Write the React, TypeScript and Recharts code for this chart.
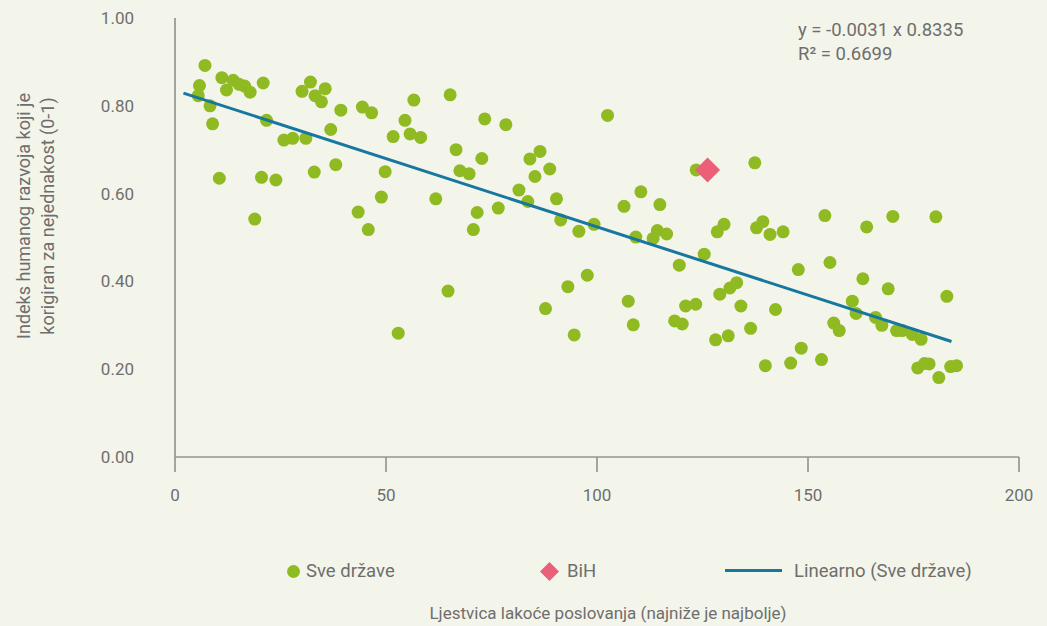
import React from 'react';
import { ScatterChart, Scatter, XAxis, YAxis } from 'recharts';

// Ljestvica lakoće poslovanja (rank) per country
const RANK = [
  7.1, 5.8, 5.5, 8.3, 8.9, 11.1, 12.2, 13.8, 15.2, 16.5, 17.8, 20.9, 21.7, 10.5, 18.9, 20.5,
  23.9, 25.8, 27.9, 31.0, 30.1, 32.1, 33.2, 34.7, 35.6, 36.9, 39.3, 33.0, 38.1, 43.4, 45.8, 48.9,
  49.8, 44.4, 46.6, 56.6, 65.2, 54.5, 51.7, 55.7, 58.2, 66.6, 72.7, 73.4, 78.4, 67.5, 69.7, 61.8,
  71.6, 70.7, 76.6, 81.5, 83.6, 84.1, 86.5, 85.3, 88.8, 90.4, 91.4, 95.7, 99.3, 64.7, 52.9, 87.8,
  93.1, 97.7, 94.6, 102.5, 123.5, 137.4, 110.4, 106.4, 114.9, 109.2, 114.3, 113.3, 116.5, 130.1,
  128.5, 137.8, 139.3, 141.0, 144.1, 125.4, 119.5, 107.4, 108.6, 121.0, 123.4, 118.4, 120.2, 129.1,
  131.5, 133.1, 134.1, 142.3, 136.4, 128.1, 131.1, 139.9, 145.9, 147.7, 148.4, 154.0, 163.9, 170.1,
  180.3, 155.2, 163.0, 169.0, 182.9, 160.5, 161.4, 156.1, 157.4, 166.0, 167.5, 171.0, 172.3, 174.7,
  176.8, 153.2, 176.0, 177.6, 178.7, 181.0, 183.8, 185.2,
];

// Indeks humanog razvoja korigiran za nejednakost
const IHDI = [
  0.892, 0.846, 0.823, 0.8, 0.759, 0.864, 0.836, 0.858, 0.849, 0.845, 0.831, 0.852, 0.767, 0.635, 0.542, 0.637,
  0.631, 0.722, 0.726, 0.726, 0.833, 0.854, 0.823, 0.809, 0.839, 0.746, 0.79, 0.649, 0.666, 0.558, 0.518, 0.592,
  0.65, 0.797, 0.784, 0.813, 0.825, 0.767, 0.73, 0.736, 0.728, 0.7, 0.68, 0.77, 0.757, 0.652, 0.645, 0.588,
  0.557, 0.518, 0.567, 0.608, 0.582, 0.679, 0.696, 0.639, 0.656, 0.588, 0.54, 0.514, 0.53, 0.378, 0.282, 0.338,
  0.388, 0.414, 0.278, 0.778, 0.654, 0.67, 0.604, 0.571, 0.575, 0.501, 0.516, 0.498, 0.508, 0.53,
  0.513, 0.522, 0.536, 0.507, 0.513, 0.462, 0.437, 0.355, 0.301, 0.344, 0.348, 0.31, 0.303, 0.371,
  0.385, 0.397, 0.344, 0.336, 0.293, 0.267, 0.276, 0.208, 0.214, 0.427, 0.248, 0.55, 0.524, 0.548,
  0.547, 0.443, 0.406, 0.383, 0.366, 0.355, 0.327, 0.305, 0.288, 0.318, 0.3, 0.288, 0.288, 0.279,
  0.268, 0.222, 0.203, 0.213, 0.212, 0.181, 0.206, 0.208,
];

const BIH_RANK = [126.2];
const BIH_IHDI = [0.654];

// trend line end points (y = -0.0031x + 0.8335)
const TREND_RANK = [2, 184];
const TREND_IHDI = [0.829, 0.263];

const X_TICKS = [0, 50, 100, 150, 200];
const Y_TICKS = [0, 0.2, 0.4, 0.6, 0.8, 1];

const svData = RANK.map((x, i) => ({ x, y: IHDI[i] }));
const bihData = BIH_RANK.map((x, i) => ({ x, y: BIH_IHDI[i] }));
const trendData = TREND_RANK.map((x, i) => ({ x, y: TREND_IHDI[i] }));

const GREEN = '#8fba22';
const PINK = '#ec5f78';
const BLUE = '#17779f';
const TEXT = '#6e6e6e';
const BG = '#f4f5ea';
const FONT = 'Roboto, sans-serif';

const Dot = (props: any) => <circle cx={props.cx} cy={props.cy} r={6.5} fill={GREEN} />;

const Diamond = (props: any) => {
  const { cx, cy } = props;
  const r = 12.5;
  return <polygon points={`${cx},${cy - r} ${cx + r},${cy} ${cx},${cy + r} ${cx - r},${cy}`} fill={PINK} />;
};

const YTitle = () => (
  <g fill={TEXT} fontSize={18} fontFamily={FONT}>
    <text x={23} y={216} textAnchor="middle" dominantBaseline="central" transform="rotate(-90, 23, 216)">
      Indeks humanog razvoja koji je
    </text>
    <text x={47} y={216} textAnchor="middle" dominantBaseline="central" transform="rotate(-90, 47, 216)">
      korigiran za nejednakost (0-1)
    </text>
  </g>
);

const XTitle = () => (
  <text x={608} y={613} textAnchor="middle" dominantBaseline="central" fill={TEXT} fontSize={17} fontFamily={FONT}>
    Ljestvica lakoće poslovanja (najniže je najbolje)
  </text>
);

const legendItem: React.CSSProperties = {
  position: 'absolute',
  top: 560,
  display: 'flex',
  alignItems: 'center',
  height: 22,
  fontSize: 18.5,
  color: TEXT,
  fontFamily: FONT,
  whiteSpace: 'nowrap',
};

export default function App() {
  return (
    <div style={{ position: 'absolute', left: 0, top: 0, width: 1047, height: 626, background: BG, overflow: 'hidden' }}>
      <ScatterChart width={1047} height={626} margin={{ top: 18, right: 28, bottom: 0, left: 0 }}>
        <XAxis
          type="number"
          dataKey="x"
          domain={[0, 200]}
          ticks={X_TICKS}
          height={169}
          axisLine={{ stroke: '#666666', strokeWidth: 1 }}
          tickLine={{ stroke: '#8a8a8a', strokeWidth: 1.5 }}
          tickSize={15}
          tickMargin={17}
          tick={{ fill: TEXT, fontSize: 17, fontFamily: FONT }}
          label={XTitle}
        />
        <YAxis
          type="number"
          dataKey="y"
          domain={[0, 1]}
          ticks={Y_TICKS}
          tickFormatter={(v: number) => v.toFixed(2)}
          width={175}
          axisLine={{ stroke: '#a4a49d', strokeWidth: 2 }}
          tickLine={false}
          tickSize={0}
          tickMargin={41}
          tick={{ fill: TEXT, fontSize: 17, fontFamily: FONT }}
          label={YTitle}
        />
        <Scatter name="Sve države" data={svData} shape={Dot} isAnimationActive={false} />
        <Scatter
          name="Linearno (Sve države)"
          data={trendData}
          line={{ stroke: BLUE, strokeWidth: 3 }}
          shape={() => <g />}
          isAnimationActive={false}
        />
        <Scatter name="BiH" data={bihData} shape={Diamond} isAnimationActive={false} />
      </ScatterChart>

      <div style={{ position: 'absolute', left: 798, top: 18, fontSize: 18.5, lineHeight: '24px', color: TEXT, fontFamily: FONT }}>
        <div>y = -0.0031 x 0.8335</div>
        <div>R² = 0.6699</div>
      </div>

      <div style={{ ...legendItem, left: 287 }}>
        <svg width={13} height={13} style={{ marginRight: 6 }}>
          <circle cx={6.5} cy={6.5} r={6.5} fill={GREEN} />
        </svg>
        Sve države
      </div>
      <div style={{ ...legendItem, left: 540 }}>
        <svg width={19} height={19} style={{ marginRight: 8 }}>
          <polygon points="9.5,0 19,9.5 9.5,19 0,9.5" fill={PINK} />
        </svg>
        BiH
      </div>
      <div style={{ ...legendItem, left: 725 }}>
        <svg width={57} height={4} style={{ marginRight: 12 }}>
          <rect x={0} y={0} width={57} height={3} fill={BLUE} />
        </svg>
        Linearno (Sve države)
      </div>
    </div>
  );
}
